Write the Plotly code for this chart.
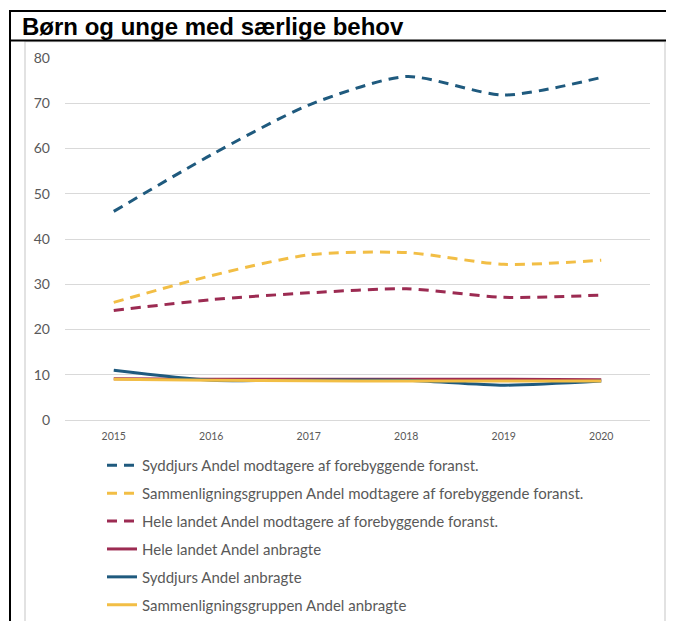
import plotly.graph_objects as go

years = ["2015", "2016", "2017", "2018", "2019", "2020"]

syddjurs_forebyg = [46.1, 58.6, 69.6, 75.9, 71.8, 75.7]
sammen_forebyg = [26.0, 31.9, 36.5, 37.0, 34.4, 35.3]
hele_forebyg = [24.2, 26.6, 28.1, 29.0, 27.1, 27.6]
hele_anbragte = [9.1, 9.0, 9.0, 9.0, 9.0, 8.9]
syddjurs_anbragte = [11.0, 8.8, 8.8, 8.8, 7.7, 8.6]
sammen_anbragte = [9.0, 8.8, 8.7, 8.6, 8.6, 8.6]

names = [
    "Syddjurs Andel modtagere af forebyggende foranst.",
    "Sammenligningsgruppen Andel modtagere af forebyggende foranst.",
    "Hele landet Andel modtagere af forebyggende foranst.",
    "Hele landet Andel anbragte",
    "Syddjurs Andel anbragte",
    "Sammenligningsgruppen Andel anbragte",
]
series = [syddjurs_forebyg, sammen_forebyg, hele_forebyg,
          hele_anbragte, syddjurs_anbragte, sammen_anbragte]
colors = ["#1F5A7E", "#F2BE45", "#9C2B52", "#9C2B52", "#1F5A7E", "#F2BE45"]
dashes = ["10px,7px", "10px,7px", "10px,7px", "solid", "solid", "solid"]

# page offset (body margin) in the screenshot
OFF = 8
W, H = 674, 621
# plot area in screen pixels: x 65..650, y 58..420
L = 65 - OFF
R = W - (650 - OFF)
T = 58 - OFF
B = H - (420 - OFF)
pw, ph = W - L - R, H - T - B


def px(sx):
    return (sx - OFF - L) / pw


def py(sy):
    return (H - B - (sy - OFF)) / ph


fig = go.Figure()
for i, (n, s, c, d) in enumerate(zip(names, series, colors, dashes)):
    fig.add_trace(go.Scatter(
        x=years, y=s, name=n, mode="lines",
        line=dict(color=c, width=3, dash=d, shape="spline", smoothing=0.7),
        legendgroup=f"g{i}",
    ))

font_family = "Lato, Calibri, Carlito, sans-serif"
fig.update_layout(
    width=W, height=H,
    margin=dict(l=L, r=R, t=T, b=B, autoexpand=False),
    paper_bgcolor="white", plot_bgcolor="white",
    showlegend=True,
    legend=dict(
        x=px(102), y=py(449), xanchor="left", yanchor="top",
        orientation="v", traceorder="grouped", tracegroupgap=5.4,
        font=dict(family=font_family, size=15, color="#595959"),
        bgcolor="rgba(0,0,0,0)",
    ),
    xaxis=dict(
        type="category", range=[-0.5, 5.5], automargin=False,
        showgrid=False, showline=False, zeroline=False,
        tickfont=dict(family=font_family, size=10.5, color="#595959"),
        ticks="", ticklabelstandoff=8,
    ),
    yaxis=dict(
        range=[0, 80], dtick=10, automargin=False,
        showgrid=True, gridcolor="#d9d9d9", gridwidth=1,
        zeroline=True, zerolinecolor="#d9d9d9", zerolinewidth=1,
        showline=False, ticks="", ticklabelstandoff=14,
        tickfont=dict(family=font_family, size=14, color="#595959"),
    ),
    font=dict(family=font_family),
)

shapes = [
    # inner gray frame
    dict(type="rect", xref="paper", yref="paper",
         x0=px(25), x1=px(665), y0=py(680), y1=py(41.5),
         line=dict(color="#d9d9d9", width=1.5), layer="below"),
    # outer black lines
    dict(type="line", xref="paper", yref="paper",
         x0=px(9), x1=px(700), y0=py(11), y1=py(11),
         line=dict(color="black", width=2)),
    dict(type="line", xref="paper", yref="paper",
         x0=px(9), x1=px(700), y0=py(40.5), y1=py(40.5),
         line=dict(color="black", width=2)),
    dict(type="line", xref="paper", yref="paper",
         x0=px(10), x1=px(10), y0=py(10), y1=py(680),
         line=dict(color="black", width=2)),
]
fig.update_layout(shapes=shapes)

fig.add_annotation(
    text="<b>Børn og unge med særlige behov</b>",
    xref="paper", yref="paper", x=px(20), y=py(26),
    xanchor="left", yanchor="middle", showarrow=False,
    font=dict(family="Liberation Sans, Arial, sans-serif", size=24, color="black"),
)

fig.write_html("out.html")
